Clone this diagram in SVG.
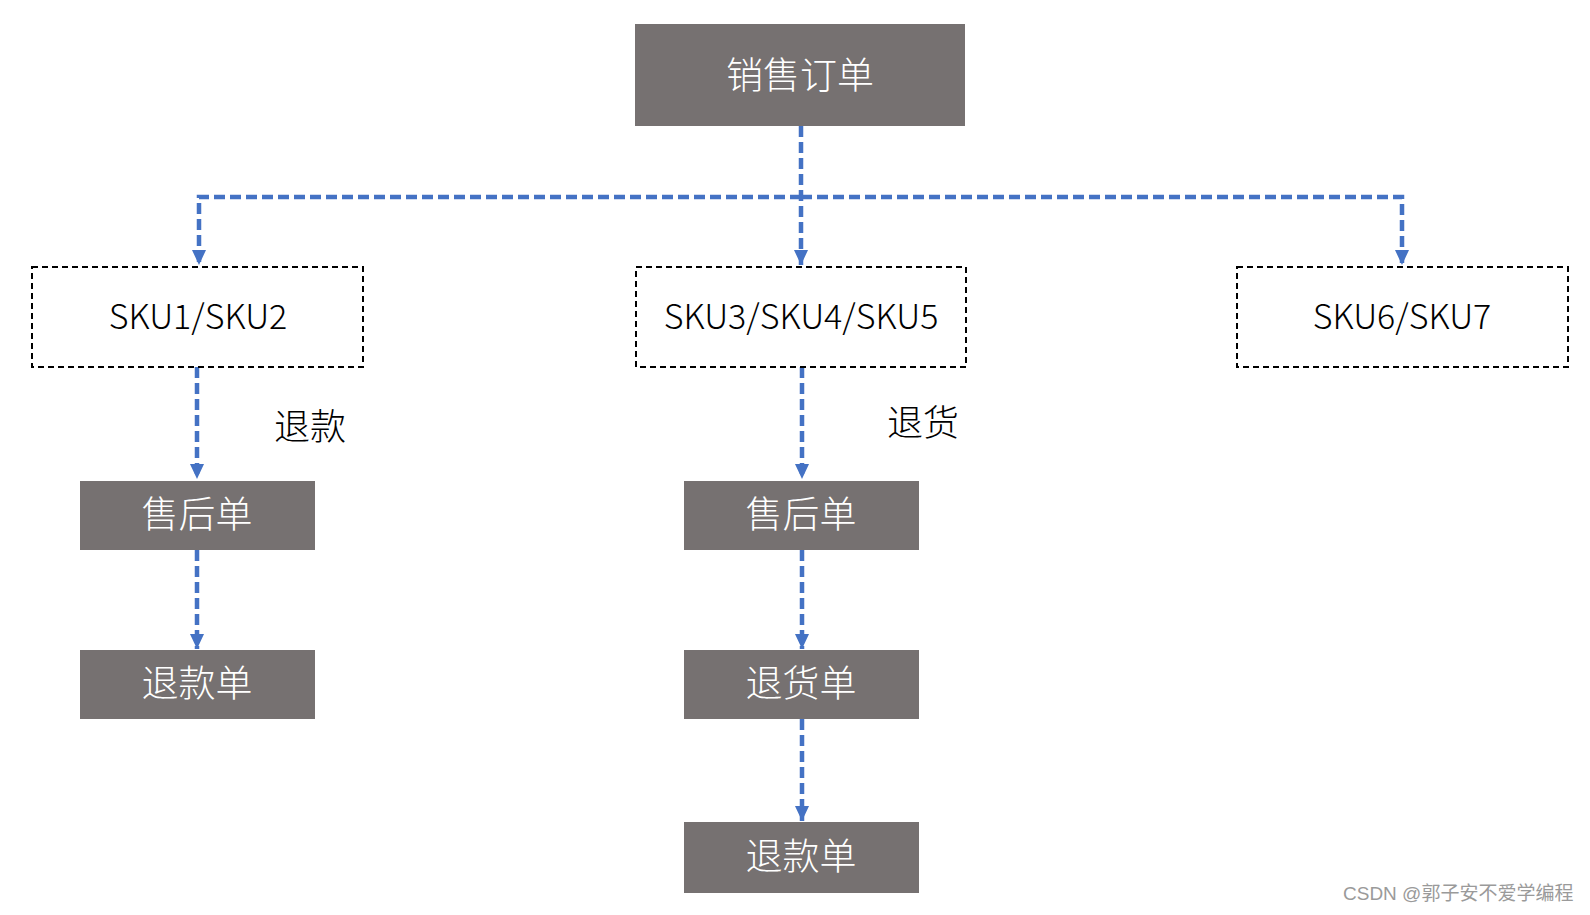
<svg xmlns="http://www.w3.org/2000/svg" width="1590" height="915" viewBox="0 0 1590 915">
<style>
.solid{fill:#767171}
.dbox{fill:none;stroke:#000;stroke-width:2;stroke-dasharray:6 4}
.wt{fill:#fff;font-family:"Noto Sans CJK SC",sans-serif;font-weight:300;font-size:37px;text-anchor:middle}
.bt{fill:#000;font-family:"Noto Sans CJK SC",sans-serif;font-weight:300;font-size:34px;text-anchor:middle}
.lbl{fill:#000;font-family:"Noto Sans CJK SC",sans-serif;font-weight:300;font-size:36px}
.conn{fill:none;stroke:#4472C4;stroke-width:4.5;stroke-dasharray:11 5}
.wm{fill:#9a9a9a;font-family:"Liberation Sans","Noto Sans CJK SC",sans-serif;font-size:19px}
</style>
<defs>
<marker id="ah" markerUnits="userSpaceOnUse" markerWidth="16" markerHeight="16" viewBox="0 0 16 16" refX="15" refY="8" orient="auto">
<path d="M0,1 L15,8 L0,15 Z" fill="#4472C4"/>
</marker>
</defs>
<rect width="1590" height="915" fill="#fff"/>
<g id="connectors">
<path class="conn" d="M801,126 V265" marker-end="url(#ah)"/>
<path class="conn" d="M801,197 H199 V265" marker-end="url(#ah)"/>
<path class="conn" d="M801,197 H1402 V265" marker-end="url(#ah)"/>
<path class="conn" d="M197,367 V479" marker-end="url(#ah)"/>
<path class="conn" d="M197,550 V649" marker-end="url(#ah)"/>
<path class="conn" d="M802,367 V479" marker-end="url(#ah)"/>
<path class="conn" d="M802,550 V649" marker-end="url(#ah)"/>
<path class="conn" d="M802,719 V821" marker-end="url(#ah)"/>
</g>
<g id="n-order"><rect class="solid" x="635" y="24" width="330" height="102"/><text class="wt" x="800" y="89" font-size="38">销售订单</text></g>
<g id="n-sku12"><rect class="dbox" x="32" y="267" width="331" height="100"/><text class="bt" x="198" y="329">SKU1/SKU2</text></g>
<g id="n-sku345"><rect class="dbox" x="636" y="267" width="330" height="100"/><text class="bt" x="801" y="329">SKU3/SKU4/SKU5</text></g>
<g id="n-sku67"><rect class="dbox" x="1237" y="267" width="331" height="100"/><text class="bt" x="1402" y="329">SKU6/SKU7</text></g>
<g id="n-after1"><rect class="solid" x="80" y="481" width="235" height="69"/><text class="wt" x="197" y="528">售后单</text></g>
<g id="n-refund1"><rect class="solid" x="80" y="650" width="235" height="69"/><text class="wt" x="197" y="697">退款单</text></g>
<g id="n-after2"><rect class="solid" x="684" y="481" width="235" height="69"/><text class="wt" x="801" y="528">售后单</text></g>
<g id="n-return2"><rect class="solid" x="684" y="650" width="235" height="69"/><text class="wt" x="801" y="697">退货单</text></g>
<g id="n-refund2"><rect class="solid" x="684" y="822" width="235" height="71"/><text class="wt" x="801" y="870">退款单</text></g>
<text class="lbl" x="274" y="440">退款</text>
<text class="lbl" x="887" y="436">退货</text>
<text class="wm" x="1343" y="900">CSDN @郭子安不爱学编程</text>
</svg>
